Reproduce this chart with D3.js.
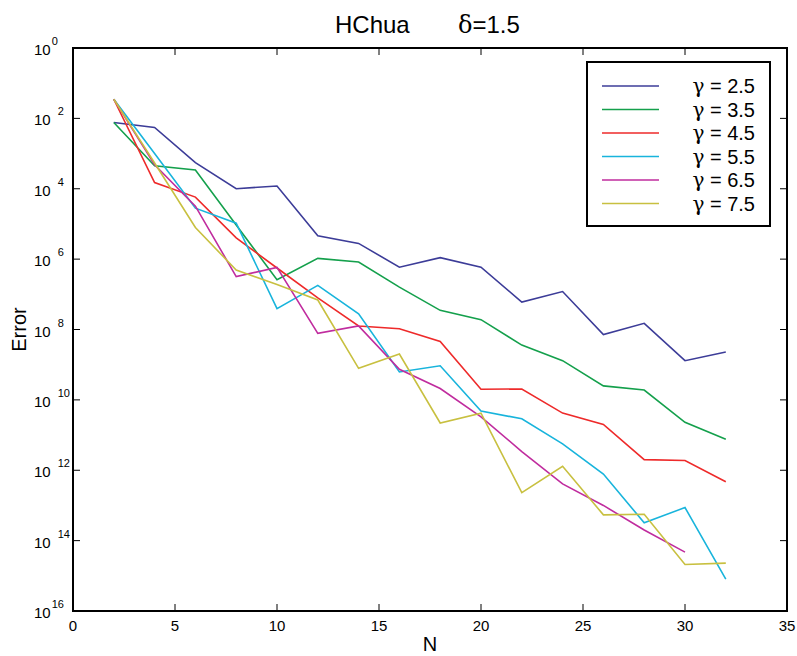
<!DOCTYPE html>
<meta charset="utf-8">
<title>HChua delta=1.5</title>
<style>
    body { margin: 0; background: #fff; }
    text { font-family: "Liberation Sans", Arial, sans-serif; fill: #000; }
    .greek { font-family: "DejaVu Serif", serif; }
    .series { fill: none; stroke-width: 1.6; }
</style>

<svg width="797" height="656"></svg>
<script src="https://d3js.org/d3.v7.min.js"></script>
<script>

    // error values, one entry per N
    var N = [2, 4, 6, 8, 10, 12, 14, 16, 18, 20, 22, 24, 26, 28, 30, 32];
    var gammas = ["2.5", "3.5", "4.5", "5.5", "6.5", "7.5"];
    var err25 = [7.6e-3, 5.5e-3, 5.5e-4, 1.0e-4, 1.2e-4, 4.6e-6, 2.8e-6, 5.9e-7, 1.1e-6, 5.9e-7, 6.0e-8, 1.2e-7, 7.2e-9, 1.5e-8, 1.3e-9, 2.3e-9];
    var err35 = [7.6e-3, 4.5e-4, 3.4e-4, 9.3e-6, 2.6e-7, 1.05e-6, 8.3e-7, 1.6e-7, 3.5e-8, 1.9e-8, 3.6e-9, 1.3e-9, 2.5e-10, 1.9e-10, 2.3e-11, 7.6e-12];
    var err45 = [3.5e-2, 1.5e-4, 5.8e-5, 4.0e-6, 5.6e-7, 7.9e-8, 1.26e-8, 1.05e-8, 4.6e-9, 2.0e-10, 2.04e-10, 4.2e-11, 2.0e-11, 2.0e-12, 1.9e-12, 4.7e-13];
    var err55 = [3.5e-2, 1.0e-3, 2.8e-5, 1.05e-5, 3.9e-8, 1.8e-7, 2.8e-8, 6.2e-10, 9.3e-10, 4.8e-11, 2.9e-11, 5.6e-12, 7.8e-13, 3.2e-14, 8.7e-14, 8.1e-16];
    var err65 = [3.5e-2, 4.8e-4, 3.2e-5, 3.2e-7, 5.8e-7, 7.8e-9, 1.26e-8, 7.4e-10, 2.1e-10, 3.3e-11, 3.4e-12, 4.1e-13, 1.0e-13, 2.0e-14, 4.7e-15, null];
    var err75 = [3.5e-2, 5.4e-4, 7.9e-6, 4.9e-7, 1.9e-7, 6.9e-8, 7.9e-10, 2.0e-9, 2.2e-11, 4.2e-11, 2.3e-13, 1.3e-12, 5.4e-14, 5.6e-14, 2.1e-15, 2.3e-15];
    var xTicks = [0, 5, 10, 15, 20, 25, 30, 35];
    var yExps = [0, 2, 4, 6, 8, 10, 12, 14, 16];

    var series = [err25, err35, err45, err55, err65, err75];
    var colors = ["#3c3c98", "#14a04c", "#ee2a2a", "#18b4dc", "#c02c9e", "#c8c040"];

    var svg = d3.select("svg"),
        pLeft = 73, pRight = 787, pTop = 48, pBottom = 611;

    var x = d3.scaleLinear().domain([0, 35]).range([pLeft, pRight]);
    var y = d3.scaleLog().domain([1e-16, 1]).range([pBottom, pTop]);

    // axis box
    svg.append("rect")
        .attr("x", pLeft).attr("y", pTop)
        .attr("width", pRight - pLeft).attr("height", pBottom - pTop)
        .attr("fill", "none").attr("stroke", "#000").attr("stroke-width", 2);

    // inward ticks on all four sides
    var tick = 7;
    xTicks.slice(1, -1).forEach(function(t) {
        svg.append("line").attr("x1", x(t)).attr("x2", x(t)).attr("y1", pBottom).attr("y2", pBottom - tick).attr("stroke", "#000");
        svg.append("line").attr("x1", x(t)).attr("x2", x(t)).attr("y1", pTop).attr("y2", pTop + tick).attr("stroke", "#000");
    });
    yExps.slice(1, -1).forEach(function(e) {
        var yy = y(Math.pow(10, -e));
        svg.append("line").attr("x1", pLeft).attr("x2", pLeft + tick).attr("y1", yy).attr("y2", yy).attr("stroke", "#000");
        svg.append("line").attr("x1", pRight).attr("x2", pRight - tick).attr("y1", yy).attr("y2", yy).attr("stroke", "#000");
    });

    // tick labels
    svg.selectAll(".xlab")
        .data(xTicks)
        .enter().append("text")
            .attr("x", function(d) { return x(d); })
            .attr("y", 631)
            .attr("text-anchor", "middle")
            .attr("font-size", 15)
            .text(function(d) { return d; });

    var ylab = svg.selectAll(".ylab")
        .data(yExps)
        .enter().append("text")
            .attr("x", 34)
            .attr("y", function(d) { return y(Math.pow(10, -d)) + 7; })
            .attr("font-size", 15);
    ylab.append("tspan").text("10");
    ylab.append("tspan")
        .attr("dx", function(d) { return (d === 0 || d === 16) ? 1 : 7; })
        .attr("dy", -10)
        .attr("font-size", 11)
        .text(function(d) { return d; });

    // titles
    svg.append("text").attr("x", 335).attr("y", 33).attr("font-size", 24).text("HChua");
    var dt = svg.append("text").attr("x", 458).attr("y", 33).attr("font-size", 24);
    dt.append("tspan").attr("class", "greek").text("δ");
    dt.append("tspan").text("=1.5");
    svg.append("text").attr("x", 430).attr("y", 651).attr("text-anchor", "middle").attr("font-size", 20).text("N");
    svg.append("text")
        .attr("transform", "translate(26," + ((pTop + pBottom) / 2) + ") rotate(-90)")
        .attr("text-anchor", "middle")
        .attr("font-size", 20)
        .text("Error");

    // lines
    var line = d3.line()
        .defined(function(d) { return d != null; })
        .x(function(d, i) { return x(N[i]); })
        .y(function(d) { return y(d); });

    svg.selectAll(".series")
        .data(series)
        .enter().append("path")
            .attr("class", "series")
            .attr("stroke", function(d, i) { return colors[i]; })
            .attr("d", line);

    // legend
    var lg = svg.append("g");
    lg.append("rect")
        .attr("x", 587).attr("y", 62).attr("width", 183).attr("height", 164)
        .attr("fill", "#fff").attr("stroke", "#000").attr("stroke-width", 2);
    var row = lg.selectAll(".row")
        .data(gammas)
        .enter().append("g")
            .attr("transform", function(d, i) { return "translate(0," + (86 + i * 23.5) + ")"; });
    row.append("line")
        .attr("x1", 602).attr("x2", 659)
        .attr("stroke", function(d, i) { return colors[i]; })
        .attr("stroke-width", 1.6);
    var lt = row.append("text")
        .attr("x", 755).attr("y", 7)
        .attr("text-anchor", "end")
        .attr("font-size", 20);
    lt.append("tspan").attr("class", "greek").text("γ");
    lt.append("tspan").text(function(d) { return " = " + d; });

</script>
